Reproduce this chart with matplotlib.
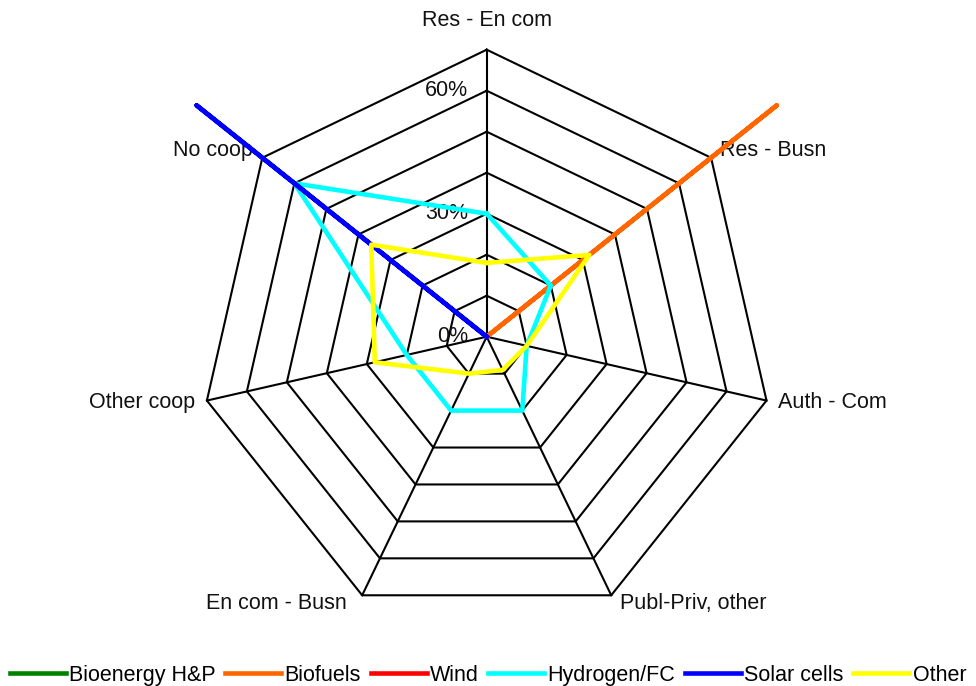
import matplotlib
matplotlib.use("Agg")
import matplotlib.pyplot as plt
import numpy as np

plt.rcParams['font.family'] = ['Liberation Sans', 'DejaVu Sans']

# axes of the radar, clockwise from the top
axis_names = ["Res - En com", "Res - Busn", "Auth - Com", "Publ-Priv, other",
              "En com - Busn", "Other coop", "No coop"]

# values in % per series
bioenergy = [0, 0, 0, 0, 0, 0, 0]
biofuels = [0, 90.5, 0, 0, 0, 0, 0]
wind = [0, 0, 0, 0, 0, 0, 0]
hydrogen = [30, 20, 10, 20, 20, 20, 60]
solar = [0, 0, 0, 0, 0, 0, 90.5]
other = [18, 32, 10, 9, 10, 28, 36]

series_names = ["Bioenergy H&P", "Biofuels", "Wind", "Hydrogen/FC", "Solar cells", "Other"]
series_vals = [bioenergy, biofuels, wind, hydrogen, solar, other]
colors = ["#008000", "#FF6600", "#FF0000", "#00FFFF", "#0000FF", "#FFFF00"]

rings = np.arange(10, 71, 10)
tick_vals = [0, 30, 60]
tick_labels = ["0%", "30%", "60%"]

n = len(axis_names)
ang = np.pi / 2 - np.arange(n) * 2 * np.pi / n

def xy(vals):
    v = np.asarray(vals, dtype=float)
    x = v * np.cos(ang)
    y = v * np.sin(ang)
    return np.append(x, x[0]), np.append(y, y[0])

fig = plt.figure(figsize=(9.76, 6.86), dpi=100)
ax = fig.add_axes([0, 0, 1, 1])
s = 4.1  # pixels per percent
cx, cy = 486.7, 336.7
ax.set_xlim(-cx / s, (976 - cx) / s)
ax.set_ylim(-(686 - cy) / s, cy / s)
ax.axis('off')

# grid
for r in rings:
    gx, gy = xy([r] * n)
    ax.plot(gx, gy, color='black', lw=1.5, zorder=1)
for a in ang:
    ax.plot([0, 70 * np.cos(a)], [0, 70 * np.sin(a)], color='black', lw=1.5, zorder=1)

# series
for name, vals, c in zip(series_names, series_vals, colors):
    px, py = xy(vals)
    ax.plot(px, py, color=c, lw=3.3, label=name, zorder=3)

fs = 15.5
# value labels
for v, t in zip(tick_vals, tick_labels):
    ax.text(-4.6, v, t, ha='right', va='center', fontsize=fs, color='#111111', zorder=2)

# category labels
offsets = [(0, 29, 'center'), (9, 7, 'left'), (11, -2, 'left'), (9, -8, 'left'),
           (-15, -8, 'right'), (-12, -2, 'right'), (-9, 7, 'right')]
for name, a, (dx, dy, ha) in zip(axis_names, ang, offsets):
    ax.annotate(name, xy=(70 * np.cos(a), 70 * np.sin(a)), xytext=(dx, -dy * -1),
                textcoords='offset pixels', ha=ha, va='center', fontsize=fs,
                color='#111111', zorder=2)

ax.legend(loc='center', bbox_to_anchor=(0.5, 0.016), ncol=6, frameon=False,
          fontsize=fs, handlelength=2.6, handletextpad=0.15, columnspacing=0.45,
          borderaxespad=0)

fig.savefig("out.png", dpi=100)
